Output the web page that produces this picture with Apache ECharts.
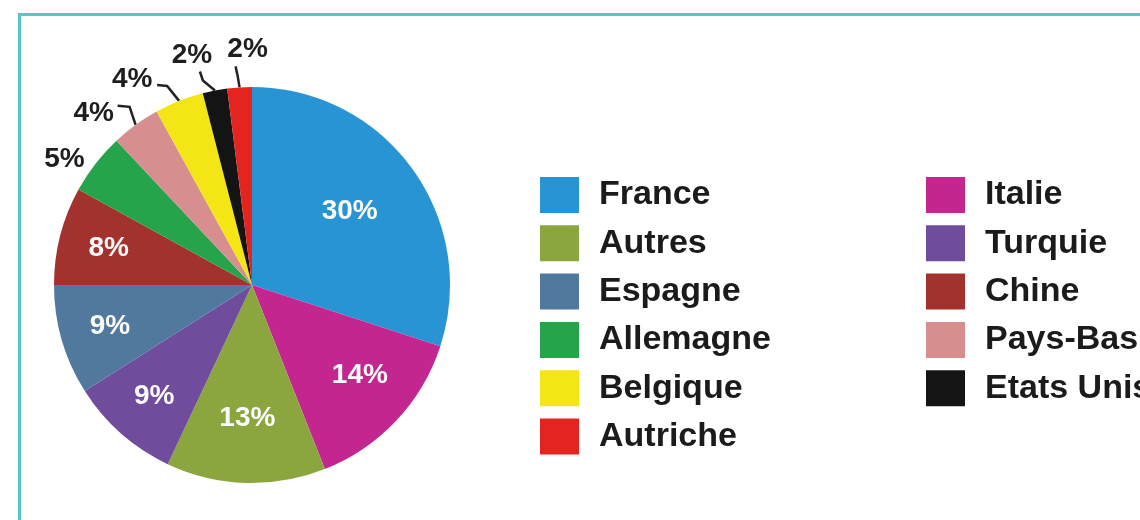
<!DOCTYPE html>
<html lang="fr">

<head>
    <meta charset="utf-8" />
    <title>Répartition par pays</title>
    <script src="https://cdn.jsdelivr.net/npm/echarts@6/dist/echarts.min.js"></script>
    <style>
        html,
        body {
            margin: 0;
            padding: 0;
            background: #ffffff;
        }

        #wrap {
            position: relative;
            width: 1140px;
            height: 520px;
            overflow: hidden;
        }

        #camembert {
            width: 1140px;
            height: 520px;
        }

        /* cadre turquoise qui sort de l'image à droite et en bas */
        #cadre {
            position: absolute;
            left: 18px;
            top: 13px;
            width: 1200px;
            height: 600px;
            border-left: 3px solid #57c6c9;
            border-top: 3px solid #57c6c9;
            pointer-events: none;
        }
    </style>
</head>

<body>
    <div id="wrap">
        <div id="camembert"></div>
        <div id="cadre"></div>
    </div>

    <script>
        // données, dans l'ordre des parts (sens horaire depuis midi)
        var pays = ['France', 'Italie', 'Autres', 'Turquie', 'Espagne', 'Chine',
            'Allemagne', 'Pays-Bas', 'Belgique', 'Etats Unis', 'Autriche'];
        var parts = [30, 14, 13, 9, 9, 8, 5, 4, 4, 2, 2];

        // les deux colonnes de la légende
        var legendeGauche = ['France', 'Autres', 'Espagne', 'Allemagne', 'Belgique', 'Autriche'];
        var legendeDroite = ['Italie', 'Turquie', 'Chine', 'Pays-Bas', 'Etats Unis'];

        // couleurs (même ordre que pays)
        var couleurs = ['#2994d4', '#c42690', '#8ba63f', '#704c9c', '#50799d', '#a3322f',
            '#25a44b', '#d68f8e', '#f4e515', '#141414', '#e3241f'];

        // seuil : au dessus, étiquette blanche dans la part, sinon dehors
        var seuilInterieur = 8;

        // petits décalages des étiquettes extérieures (par rapport au bord de la part)
        var decalExt = {
            'Pays-Bas': { txt: [-42, -12], ligne: [[-6, -18], [-18, -19]] },
            'Belgique': { txt: [-47, -22], ligne: [[-12, -15], [-22, -16]] },
            'Etats Unis': { txt: [-23, -35], ligne: [[-12, -10], [-15, -19]] },
            'Autriche': { txt: [8, -38], ligne: [[-2, -12], [-4, -21]] }
        };
        // le 5 % n'a pas de trait : simple décalage
        var decalSansTrait = {
            'Allemagne': [16, 5]
        };
        // et des étiquettes intérieures
        var decalInt = {
            'France': [-22, 13],
            'Italie': [0, -11],
            'Autres': [0, -15]
        };

        var myChart = echarts.init(document.getElementById('camembert'), null, { renderer: 'canvas' });

        var dataPrincipale = [];
        var dataEtiquettes = [];
        for (var i = 0; i < pays.length; i++) {
            var dedans = parts[i] >= seuilInterieur;
            var sansTrait = !!decalSansTrait[pays[i]];
            dataPrincipale.push({
                name: pays[i],
                value: parts[i],
                itemStyle: { color: couleurs[i] },
                label: { show: !dedans },
                labelLine: { show: !dedans && !sansTrait }
            });
            dataEtiquettes.push({
                name: pays[i],
                value: parts[i],
                label: { show: dedans }
            });
        }

        var texteLegende = {
            fontFamily: 'Liberation Sans, Arial, sans-serif',
            fontSize: 34,
            fontWeight: 'bold',
            color: '#1b1b1b',
            lineHeight: 36,
            padding: [0, 0, 0, 15]
        };

        var option = {
            animation: false,
            backgroundColor: '#ffffff',
            color: couleurs,
            legend: [{
                orient: 'vertical',
                left: 535,
                top: 172,
                data: legendeGauche,
                icon: 'rect',
                itemWidth: 39,
                itemHeight: 36,
                itemGap: 12.3,
                selectedMode: false,
                textStyle: texteLegende
            }, {
                orient: 'vertical',
                left: 921,
                top: 172,
                data: legendeDroite,
                icon: 'rect',
                itemWidth: 39,
                itemHeight: 36,
                itemGap: 12.3,
                selectedMode: false,
                textStyle: texteLegende
            }],
            series: [{
                // le camembert lui-même + étiquettes extérieures
                name: 'parts',
                type: 'pie',
                center: [252, 285],
                radius: [0, 198],
                startAngle: 90,
                clockwise: true,
                avoidLabelOverlap: false,
                emphasis: { scale: false },
                itemStyle: { borderWidth: 0 },
                label: {
                    position: 'outside',
                    formatter: '{c}%',
                    fontFamily: 'Liberation Sans, Arial, sans-serif',
                    fontSize: 28,
                    fontWeight: 'bold',
                    color: '#1e1e1e'
                },
                labelLine: {
                    length: 15,
                    length2: 10,
                    lineStyle: { color: '#222222', width: 2.5 }
                },
                labelLayout: function (p) {
                    var nom = pays[p.dataIndex];
                    if (decalSansTrait[nom]) {
                        return { dx: decalSansTrait[nom][0], dy: decalSansTrait[nom][1] };
                    }
                    var d = decalExt[nom];
                    if (!d || !p.labelLinePoints) {
                        return {};
                    }
                    var a = p.labelLinePoints[0];
                    return {
                        x: a[0] + d.txt[0],
                        y: a[1] + d.txt[1],
                        align: 'center',
                        verticalAlign: 'middle',
                        labelLinePoints: [
                            [a[0], a[1]],
                            [a[0] + d.ligne[0][0], a[1] + d.ligne[0][1]],
                            [a[0] + d.ligne[1][0], a[1] + d.ligne[1][1]]
                        ]
                    };
                },
                data: dataPrincipale
            }, {
                // anneau transparent pour placer les % blancs vers 0.73 du rayon
                name: 'etiquettes',
                type: 'pie',
                center: [252, 285],
                radius: [92, 198],
                startAngle: 90,
                clockwise: true,
                silent: true,
                avoidLabelOverlap: false,
                emphasis: { scale: false },
                itemStyle: { color: 'rgba(0,0,0,0)', borderWidth: 0 },
                label: {
                    position: 'inside',
                    formatter: '{c}%',
                    fontFamily: 'Liberation Sans, Arial, sans-serif',
                    fontSize: 28,
                    fontWeight: 'bold',
                    color: '#fbfbfb'
                },
                labelLine: { show: false },
                labelLayout: function (p) {
                    var d = decalInt[pays[p.dataIndex]];
                    if (!d) {
                        return {};
                    }
                    return { dx: d[0], dy: d[1] };
                },
                data: dataEtiquettes
            }]
        };

        myChart.setOption(option);
    </script>
</body>

</html>
